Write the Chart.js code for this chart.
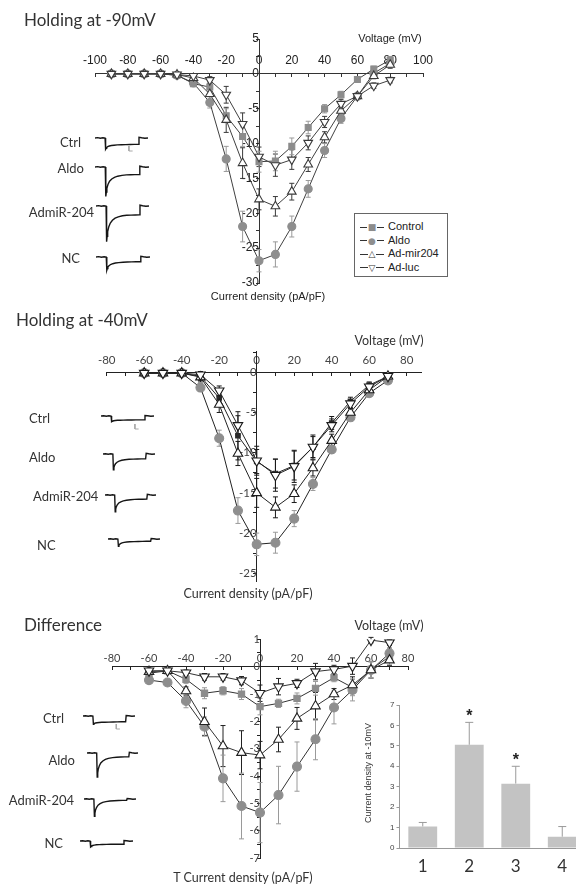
<!DOCTYPE html>
<html lang="en">
<head>
<meta charset="UTF-8">
<title>T-type current density</title>
<script src="https://cdn.jsdelivr.net/npm/chart.js"></script>
<style>
  html, body { margin: 0; padding: 0; background: #fff; }
  body { width: 576px; height: 886px; position: relative; overflow: hidden; font-family: Lato, "Open Sans", sans-serif; color: #333; }
  canvas { position: absolute; }
  .txt { position: absolute; white-space: nowrap; line-height: 1; }
  .legend { position: absolute; left: 354px; top: 213px; width: 94px; height: 64px; border: 1px solid #666;
            box-sizing: border-box; padding: 6px 0 0 5px; font: 11px "Liberation Sans", Arial, sans-serif; color: #222; background: #fff; }
  .legend div { height: 13.6px; line-height: 13.6px; white-space: nowrap; }
  .legend .mk { display: inline-block; width: 24px; text-align: center; margin-right: 4px; font: 9px "DejaVu Sans", sans-serif;
                background: linear-gradient(#333, #333) no-repeat center / 100% 1px; }
  .legend .mk b { background: #fff; padding: 0 1px; font-weight: normal; }
</style>
</head>
<body>
<script>
// ---- Holding at -90mV ----
const v90 = [-90, -80, -70, -60, -50, -40, -30, -20, -10, 0, 10, 20, 30, 40, 50, 60, 70, 80];
const h90Control = [0, 0, 0, 0, -0.2, -1.4, -1.9, -6.0, -9.0, -12.6, -12.5, -10.4, -7.7, -5.0, -3.0, -0.8, 0.7, 2.0];
const h90Aldo    = [0, 0, 0, 0, -0.2, -1.3, -4.1, -12.2, -21.9, -26.8, -25.9, -21.9, -16.5, -11.0, -6.4, -3.2, 0.1, 1.5];
const h90Mir     = [0, 0, 0, 0, -0.1, -0.6, -2.9, -6.6, -12.8, -18.0, -19.0, -16.9, -13.0, -9.1, -5.3, -3.2, -0.3, 1.3];
const h90Luc     = [0, 0, 0, 0, -0.1, -0.3, -0.9, -3.0, -7.2, -11.9, -13.1, -12.3, -9.9, -6.9, -4.3, -3.2, -1.7, -0.9];
const h90ControlErr = [0.2, 0.2, 0.2, 0.2, 0.2, 0.4, 0.6, 1.0, 1.4, 1.5, 1.4, 1.2, 0.9, 0.6, 0.5, 0.4, 0.4, 0.5];
const h90AldoErr    = [0.2, 0.2, 0.2, 0.2, 0.2, 0.4, 0.8, 1.8, 2.2, 1.6, 1.8, 1.5, 1.2, 1.0, 0.7, 0.5, 0.4, 0.5];
const h90MirErr     = [0.2, 0.2, 0.2, 0.2, 0.2, 0.3, 0.8, 1.8, 2.2, 1.5, 1.4, 1.2, 1.0, 0.8, 0.6, 0.4, 0.4, 0.5];
const h90LucErr     = [0.2, 0.2, 0.2, 0.2, 0.2, 0.3, 0.5, 1.2, 1.6, 1.4, 1.6, 1.4, 1.0, 0.8, 0.6, 0.4, 0.4, 0.4];

// ---- Holding at -40mV ----
const v40 = [-60, -50, -40, -30, -20, -10, 0, 10, 20, 30, 40, 50, 60, 70];
const h40Control = [-0.1, -0.1, -0.1, -0.5, -3.2, -7.9, -11.1, -12.6, -11.6, -9.3, -6.3, -3.6, -1.6, -0.5];
const h40Aldo    = [-0.1, -0.1, -0.1, -1.9, -8.2, -17.2, -21.4, -21.2, -18.2, -13.9, -9.6, -5.6, -2.6, -1.0];
const h40Mir     = [-0.1, -0.1, -0.1, -0.6, -4.0, -10.1, -15.0, -16.8, -15.1, -11.9, -8.5, -5.0, -2.2, -0.5];
const h40Luc     = [-0.1, -0.1, -0.1, -0.3, -2.3, -6.6, -11.0, -12.8, -11.7, -9.3, -6.6, -3.9, -1.8, -0.5];
const h40ControlErr = [0.3, 0.3, 0.3, 0.5, 1.0, 3.0, 1.5, 1.8, 1.8, 1.3, 0.8, 0.5, 0.4, 0.3];
const h40AldoErr    = [0.3, 0.3, 0.3, 0.5, 1.0, 1.6, 1.4, 1.3, 1.0, 0.8, 0.5, 0.4, 0.4, 0.3];
const h40MirErr     = [0.3, 0.3, 0.3, 0.6, 1.0, 1.5, 1.8, 1.3, 1.1, 1.0, 0.8, 0.5, 0.4, 0.3];
const h40LucErr     = [0.3, 0.3, 0.3, 0.4, 0.6, 1.2, 1.8, 2.0, 2.0, 1.5, 0.8, 0.5, 0.4, 0.3];

// ---- Difference ----
const vDiff = [-60, -50, -40, -30, -20, -10, 0, 10, 20, 30, 40, 50, 60, 70];
const dControl = [-0.24, -0.15, -0.46, -0.97, -0.88, -1.0, -1.46, -1.34, -1.16, -0.79, -0.40, -0.76, -0.1, 0.37];
const dAldo    = [-0.49, -0.58, -1.25, -2.19, -4.08, -5.09, -5.33, -4.69, -3.65, -2.65, -1.49, -0.85, -0.12, 0.49];
const dMir     = [-0.18, -0.15, -0.89, -2.01, -2.9, -3.14, -3.23, -2.66, -1.89, -1.44, -1.0, -0.67, -0.12, 0.24];
const dLuc     = [-0.15, -0.15, -0.22, -0.37, -0.37, -0.51, -0.97, -0.73, -0.61, -0.18, -0.1, 0.02, 0.97, 0.88];
const dControlErr = [0.1, 0.1, 0.15, 0.2, 0.15, 0.2, 0.3, 0.15, 0.2, 0.25, 0.15, 0.3, 0.3, 0.3];
const dAldoErr    = [0.1, 0.1, 0.25, 0.35, 0.85, 1.2, 1.1, 1.05, 0.9, 0.75, 0.6, 0.4, 0.3, 0.2];
const dMirErr     = [0.1, 0.1, 0.15, 0.5, 0.75, 0.8, 0.5, 0.45, 0.4, 0.5, 0.2, 0.3, 0.3, 0.2];
const dLucErr     = [0.1, 0.1, 0.1, 0.12, 0.12, 0.15, 0.3, 0.3, 0.15, 0.3, 0.15, 0.3, 0.1, 0.1];

// ---- inset bar chart (current density at -10mV) ----
const barCats = ['1', '2', '3', '4'];
const barVals = [1.05, 5.05, 3.15, 0.55];
const barErr  = [0.2, 1.1, 0.85, 0.5];
const barSig  = ['', '*', '*', ''];

// ---- example current traces (time in % of sweep, current in arbitrary units) ----
const traceT = [0, 5, 10, 15, 19, 20, 21, 22, 24, 27, 31, 36, 42, 50, 58, 66, 74, 82, 83, 88, 94, 100];
const tr90Ctrl = [0, 0.4, -0.3, 0.3, 0, -11.3, -10.4, -9.5, -8.7, -8.0, -7.5, -7.2, -6.9, -6.7, -6.6, -6.5, -6.4, -6.3, 0.6, 0.2, -0.2, 0];
const tr90Aldo = [0, 0.4, -0.3, 0.3, 0, -29.4, -25.1, -21.2, -17.5, -14.2, -12.0, -10.3, -9.2, -8.4, -7.9, -7.7, -7.6, -7.5, 0.8, 0.2, -0.2, 0];
const tr90Mir  = [0, 0.4, -0.3, 0.3, 0, -35.7, -30.4, -25.6, -21.0, -17.0, -14.3, -12.2, -10.9, -9.8, -9.3, -9.1, -9.0, -8.9, 0.8, 0.2, -0.2, 0];
const tr90NC   = [0, 0.4, -0.3, 0.3, 0, -13.3, -11.6, -10.1, -8.7, -7.5, -6.7, -6.0, -5.6, -5.2, -5.0, -4.9, -4.8, -4.7, 0.6, 0.2, -0.2, 0];
const tr40Ctrl = [0, 0.3, -0.3, 0.3, 0, -5.7, -5.4, -5.1, -4.8, -4.5, -4.3, -4.2, -4.1, -4.0, -4.0, -3.9, -3.9, -3.8, 0.5, 0.2, -0.2, 0];
const tr40Aldo = [0, 0.3, -0.3, 0.3, 0, -15.7, -13.6, -11.6, -9.8, -8.2, -7.1, -6.3, -5.7, -5.3, -5.1, -5.0, -4.9, -4.8, 0.6, 0.2, -0.2, 0];
const tr40Mir  = [0, 0.3, -0.3, 0.3, 0, -16.7, -14.2, -12.0, -9.9, -8.0, -6.8, -5.8, -5.2, -4.7, -4.4, -4.3, -4.2, -4.1, 0.6, 0.2, -0.2, 0];
const tr40NC   = [0, 0.3, -0.3, 0.3, 0, -7.4, -6.4, -5.5, -4.7, -3.9, -3.4, -3.0, -2.8, -2.6, -2.5, -2.4, -2.3, -2.3, 0.5, 0.2, -0.2, 0];
const trDCtrl  = [0, 0.3, -0.3, 0.3, 0, -8.3, -7.8, -7.4, -7.0, -6.7, -6.5, -6.3, -6.2, -6.1, -6.0, -5.9, -5.8, -5.7, 0.5, 0.2, -0.2, 0];
const trDAldo  = [0, 0.3, -0.3, 0.3, 0, -24.0, -20.0, -16.4, -13.0, -10.0, -8.0, -6.4, -5.4, -4.6, -4.2, -4.0, -3.9, -3.8, 0.6, 0.2, -0.2, 0];
const trDMir   = [0, 0.3, -0.3, 0.3, 0, -17.3, -14.1, -11.3, -8.6, -6.2, -4.7, -3.4, -2.6, -2.0, -1.7, -1.5, -1.4, -1.3, 0.5, 0.2, -0.2, 0];
const trDNC    = [0, 0.3, -0.3, 0.3, 0, -6.0, -5.5, -5.0, -4.5, -4.1, -3.8, -3.6, -3.5, -3.4, -3.3, -3.3, -3.2, -3.2, 0.5, 0.2, -0.2, 0];
const scaleBarT = [64, 64, 71];
const scaleBarI = [-8, -13, -13];

const seriesNames = ['Control', 'Aldo', 'Ad-mir204', 'Ad-luc'];

// ---------------------------------------------------------------
function pts(xs, ys) { return xs.map((x, i) => ({ x: x, y: ys[i] })); }

function addCanvas(left, top, w, h) {
  const c = document.createElement('canvas');
  c.width = w; c.height = h;
  c.style.left = left + 'px'; c.style.top = top + 'px';
  c.style.width = w + 'px'; c.style.height = h + 'px';
  document.body.appendChild(c);
  return c;
}

function addText(text, x, y, o) {
  const d = document.createElement('div');
  d.className = 'txt';
  d.textContent = text;
  d.style.left = x + 'px';
  d.style.top = y + 'px';
  d.style.font = o.font;
  d.style.color = o.color || '#333';
  const tx = o.align === 'right' ? '-100%' : o.align === 'center' ? '-50%' : '0';
  d.style.transform = 'translate(' + tx + ',-50%)' + (o.rotate ? ' rotate(' + o.rotate + 'deg)' : '');
  document.body.appendChild(d);
}

// vertical error bars, drawn under the markers
const errorBars = {
  id: 'errorBars',
  beforeDatasetsDraw(chart) {
    const { ctx, scales: { x, y } } = chart;
    chart.data.datasets.forEach(ds => {
      if (!ds.errors) return;
      ctx.save();
      ctx.strokeStyle = ds.errorColor || '#333';
      ctx.lineWidth = 1;
      ds.data.forEach((p, j) => {
        const val = typeof p === 'object' ? p.y : p;
        const px = typeof p === 'object' ? x.getPixelForValue(p.x) : x.getPixelForValue(j);
        const e = ds.errors[j];
        const top = y.getPixelForValue(val + e);
        const bot = ds.upOnly ? y.getPixelForValue(val) : y.getPixelForValue(val - e);
        const cap = ds.capWidth || 2.5;
        ctx.beginPath();
        ctx.moveTo(px, top); ctx.lineTo(px, bot);
        ctx.moveTo(px - cap, top); ctx.lineTo(px + cap, top);
        if (!ds.upOnly) { ctx.moveTo(px - cap, bot); ctx.lineTo(px + cap, bot); }
        ctx.stroke();
      });
      ctx.restore();
    });
  }
};

// first series in the list is drawn on top
function ivChart(cfg) {
  const b = cfg.box;
  const cv = addCanvas(b.left, b.top, b.width, b.height);
  return new Chart(cv, {
    type: 'scatter',
    data: {
      datasets: cfg.series.map(s => ({
        label: s.label,
        data: pts(cfg.volts, s.values),
        errors: s.errs,
        errorColor: s.st.err,
        showLine: true,
        borderColor: cfg.lineColor,
        borderWidth: 1,
        pointStyle: s.st.shape,
        rotation: s.st.rot || 0,
        pointRadius: s.st.r,
        pointBackgroundColor: s.st.fill,
        pointBorderColor: s.st.stroke,
        pointBorderWidth: 1.1
      }))
    },
    options: {
      responsive: false,
      animation: false,
      layout: { padding: cfg.pad },
      plugins: { legend: { display: false }, tooltip: { enabled: false } },
      scales: {
        x: {
          type: 'linear', min: cfg.xr[0], max: cfg.xr[1], position: { y: 0 },
          afterFit: s => { s.height = 0; },
          border: { color: cfg.axisColor, width: 1 },
          grid: { drawOnChartArea: false, tickLength: 3, color: cfg.axisColor },
          ticks: {
            stepSize: cfg.xStep, maxTicksLimit: 200, includeBounds: false, autoSkip: false, maxRotation: 0,
            padding: cfg.xPad, font: cfg.tickFont, color: cfg.tickColor,
            callback: v => (Math.abs(v % cfg.xEvery) < 1e-6 ? String(v) : '')
          }
        },
        y: {
          type: 'linear', min: cfg.yr[0], max: cfg.yr[1], position: { x: 0 },
          afterFit: s => { s.width = 0; },
          border: { color: cfg.axisColor, width: 1 },
          grid: { drawOnChartArea: false, tickLength: 3, color: cfg.axisColor },
          ticks: {
            stepSize: cfg.yStep, maxTicksLimit: 200, includeBounds: false, autoSkip: false,
            padding: cfg.yPad, font: cfg.tickFont, color: cfg.tickColor,
            callback: v => (Math.abs(v % cfg.yEvery) < 1e-6 ? String(Math.round(v)) : '')
          }
        }
      }
    },
    plugins: [errorBars]
  });
}

function traceChart(values, left, baseline, width, withBar) {
  const cv = addCanvas(left, baseline - 4, width, 40);
  const ds = [{ data: pts(traceT, values), borderColor: '#151515', borderWidth: 1.4, pointRadius: 0 }];
  if (withBar) ds.push({ data: pts(scaleBarT, scaleBarI), borderColor: '#a8a8a8', borderWidth: 1, pointRadius: 0 });
  return new Chart(cv, {
    type: 'scatter',
    data: { datasets: ds.map(d => Object.assign({ showLine: true, clip: false }, d)) },
    options: {
      responsive: false, animation: false,
      layout: { padding: 0 },
      plugins: { legend: { display: false }, tooltip: { enabled: false } },
      scales: {
        x: { type: 'linear', min: 0, max: 100, display: false },
        y: { type: 'linear', min: -36, max: 4, display: false }
      }
    }
  });
}

// marker styles
const stGray = { rect: '#8c8c8c', circ: '#8e8e8e' };
function styles(dark, sizes, ctrlColor) {
  return {
    control: { shape: 'rect', r: sizes[0], fill: ctrlColor, stroke: ctrlColor, err: '#9a9a9a' },
    aldo: { shape: 'circle', r: sizes[1], fill: stGray.circ, stroke: stGray.circ, err: '#9a9a9a' },
    mir: { shape: 'triangle', r: sizes[2], fill: '#fff', stroke: dark, err: dark },
    luc: { shape: 'triangle', rot: 180, r: sizes[2], fill: '#fff', stroke: dark, err: dark }
  };
}

// ---------------- Panel 1 ----------------
const s1 = styles('#3a3a3a', [4.2, 4, 5], stGray.rect);
ivChart({
  box: { left: 55, top: 25, width: 400, height: 275 },
  pad: { left: 40, right: 32, top: 14, bottom: 17 },
  volts: v90, xr: [-100, 100], yr: [-30, 5], xStep: 10, xEvery: 20, yStep: 2.5, yEvery: 5,
  xPad: -23, yPad: 1,
  tickFont: { family: '"Liberation Sans", Arial, sans-serif', size: 12 }, tickColor: '#222',
  axisColor: '#333', lineColor: '#404040',
  series: [
    { label: 'Ad-luc', values: h90Luc, errs: h90LucErr, st: s1.luc },
    { label: 'Ad-mir204', values: h90Mir, errs: h90MirErr, st: s1.mir },
    { label: 'Control', values: h90Control, errs: h90ControlErr, st: s1.control },
    { label: 'Aldo', values: h90Aldo, errs: h90AldoErr, st: s1.aldo }
  ]
});

// ---------------- Panel 2 ----------------
const s2 = styles('#1a1a1a', [3.2, 4.5, 5.5], '#2a2a2a');
s2.control.err = '#1a1a1a';
ivChart({
  box: { left: 70, top: 335, width: 380, height: 260 },
  pad: { left: 36.7, right: 28.3, top: 16.4, bottom: 13.7 },
  volts: v40, xr: [-80, 88], yr: [-26, 2.6], xStep: 10, xEvery: 20, yStep: 2.5, yEvery: 5,
  xPad: -21.5, yPad: 1,
  tickFont: { family: 'Lato, sans-serif', size: 11.5 }, tickColor: '#444',
  axisColor: '#222', lineColor: '#222',
  series: [
    { label: 'Ad-luc', values: h40Luc, errs: h40LucErr, st: s2.luc },
    { label: 'Ad-mir204', values: h40Mir, errs: h40MirErr, st: s2.mir },
    { label: 'Aldo', values: h40Aldo, errs: h40AldoErr, st: s2.aldo },
    { label: 'Control', values: h40Control, errs: h40ControlErr, st: s2.control }
  ]
});

// ---------------- Panel 3 ----------------
const s3 = styles('#222', [4.4, 4.5, 5.5], stGray.rect);
ivChart({
  box: { left: 80, top: 625, width: 345, height: 245 },
  pad: { left: 32, right: 17, top: 14.3, bottom: 11.7 },
  volts: vDiff, xr: [-80, 80], yr: [-7, 1], xStep: 10, xEvery: 20, yStep: 0.5, yEvery: 1,
  xPad: -18, yPad: 1,
  tickFont: { family: 'Lato, sans-serif', size: 11 }, tickColor: '#444',
  axisColor: '#222', lineColor: '#333',
  series: [
    { label: 'Ad-luc', values: dLuc, errs: dLucErr, st: s3.luc },
    { label: 'Ad-mir204', values: dMir, errs: dMirErr, st: s3.mir },
    { label: 'Control', values: dControl, errs: dControlErr, st: s3.control },
    { label: 'Aldo', values: dAldo, errs: dAldoErr, st: s3.aldo }
  ]
});

// ---------------- Bar inset ----------------
const stars = {
  id: 'stars',
  afterDatasetsDraw(chart) {
    const { ctx, scales: { x, y } } = chart;
    ctx.save();
    ctx.fillStyle = '#222';
    ctx.font = 'bold 16px "Liberation Sans", Arial, sans-serif';
    ctx.textAlign = 'center';
    ctx.textBaseline = 'middle';
    barSig.forEach((s, i) => {
      if (!s) return;
      ctx.fillText(s, x.getPixelForValue(i), y.getPixelForValue(barVals[i] + barErr[i]) - 6);
    });
    ctx.restore();
  }
};
const barCanvas = addCanvas(355, 690, 240, 190);
new Chart(barCanvas, {
  type: 'bar',
  data: {
    labels: barCats,
    datasets: [{
      data: barVals, errors: barErr, upOnly: true, errorColor: '#9a9a9a', capWidth: 4,
      backgroundColor: '#c3c3c3', borderWidth: 0, barPercentage: 0.62, categoryPercentage: 1
    }]
  },
  options: {
    responsive: false, animation: false,
    layout: { padding: { left: 4.5, right: 9.5, top: 15, bottom: 2 } },
    plugins: { legend: { display: false }, tooltip: { enabled: false } },
    scales: {
      x: {
        afterFit: s => { s.height = 30; },
        grid: { drawOnChartArea: false, drawTicks: false },
        border: { color: '#999' },
        ticks: { padding: 8, font: { family: 'Lato, sans-serif', size: 17 }, color: '#333' }
      },
      y: {
        min: 0, max: 7,
        afterFit: s => { s.width = 40; },
        grid: { drawOnChartArea: false, tickLength: 3, color: '#999' },
        border: { color: '#999' },
        ticks: { stepSize: 1, padding: 2, font: { family: '"Liberation Sans", Arial, sans-serif', size: 8 }, color: '#444' }
      }
    }
  },
  plugins: [errorBars, stars]
});

// ---------------- Traces ----------------
traceChart(tr90Ctrl, 95, 137.7, 53, true);
traceChart(tr90Aldo, 95, 167.3, 54);
traceChart(tr90Mir, 96, 206, 53);
traceChart(tr90NC, 96, 256.7, 54);
traceChart(tr40Ctrl, 101, 416, 53, true);
traceChart(tr40Aldo, 103, 454.3, 52);
traceChart(tr40Mir, 105, 495, 51);
traceChart(tr40NC, 108, 539.3, 52);
traceChart(trDCtrl, 83, 715.7, 52, true);
traceChart(trDAldo, 87, 753, 51);
traceChart(trDMir, 84, 798.7, 52);
traceChart(trDNC, 80, 840.7, 53);

// ---------------- Text ----------------
const titleFont = '17px Lato, sans-serif';
const lab = '13px Lato, sans-serif';
const arialS = '11px "Liberation Sans", Arial, sans-serif';
const calS = '12.5px Lato, sans-serif';

addText('Holding at -90mV', 24, 19, { font: titleFont });
addText('Holding at -40mV', 16, 319, { font: titleFont });
addText('Difference', 24, 624, { font: titleFont });

addText('Voltage (mV)', 390, 38, { font: arialS, color: '#222', align: 'center' });
addText('Current density (pA/pF)', 268, 296, { font: arialS, color: '#222', align: 'center' });
addText('Voltage (mV)', 389, 340, { font: calS, align: 'center' });
addText('Current density (pA/pF)', 248, 593, { font: calS, align: 'center' });
addText('Voltage (mV)', 389, 625, { font: calS, align: 'center' });
addText('T Current density (pA/pF)', 243, 877, { font: calS, align: 'center' });
addText('Current density at -10mV', 368, 773, { font: '9px "Liberation Sans", Arial, sans-serif', color: '#333', align: 'center', rotate: -90 });

addText('Ctrl', 81, 142, { font: lab, align: 'right' });
addText('Aldo', 84, 168, { font: lab, align: 'right' });
addText('AdmiR-204', 94, 212, { font: lab, align: 'right' });
addText('NC', 80, 258, { font: lab, align: 'right' });
addText('Ctrl', 29, 418, { font: lab });
addText('Aldo', 29, 457, { font: lab });
addText('AdmiR-204', 33, 496, { font: lab });
addText('NC', 37, 545, { font: lab });
addText('Ctrl', 64, 718, { font: lab, align: 'right' });
addText('Aldo', 75, 760, { font: lab, align: 'right' });
addText('AdmiR-204', 74, 800, { font: lab, align: 'right' });
addText('NC', 63, 843, { font: lab, align: 'right' });

// legend for panel 1
const legendGlyphs = [['\u25A0', '#8c8c8c'], ['\u25CF', '#8e8e8e'], ['\u25B3', '#333'], ['\u25BD', '#333']];
const lg = document.createElement('div');
lg.className = 'legend';
seriesNames.forEach((name, i) => {
  const row = document.createElement('div');
  const mk = document.createElement('span');
  mk.className = 'mk';
  const g = document.createElement('b');
  g.textContent = legendGlyphs[i][0];
  g.style.color = legendGlyphs[i][1];
  mk.appendChild(g);
  row.appendChild(mk);
  row.appendChild(document.createTextNode(name));
  lg.appendChild(row);
});
document.body.appendChild(lg);
</script>
</body>
</html>
